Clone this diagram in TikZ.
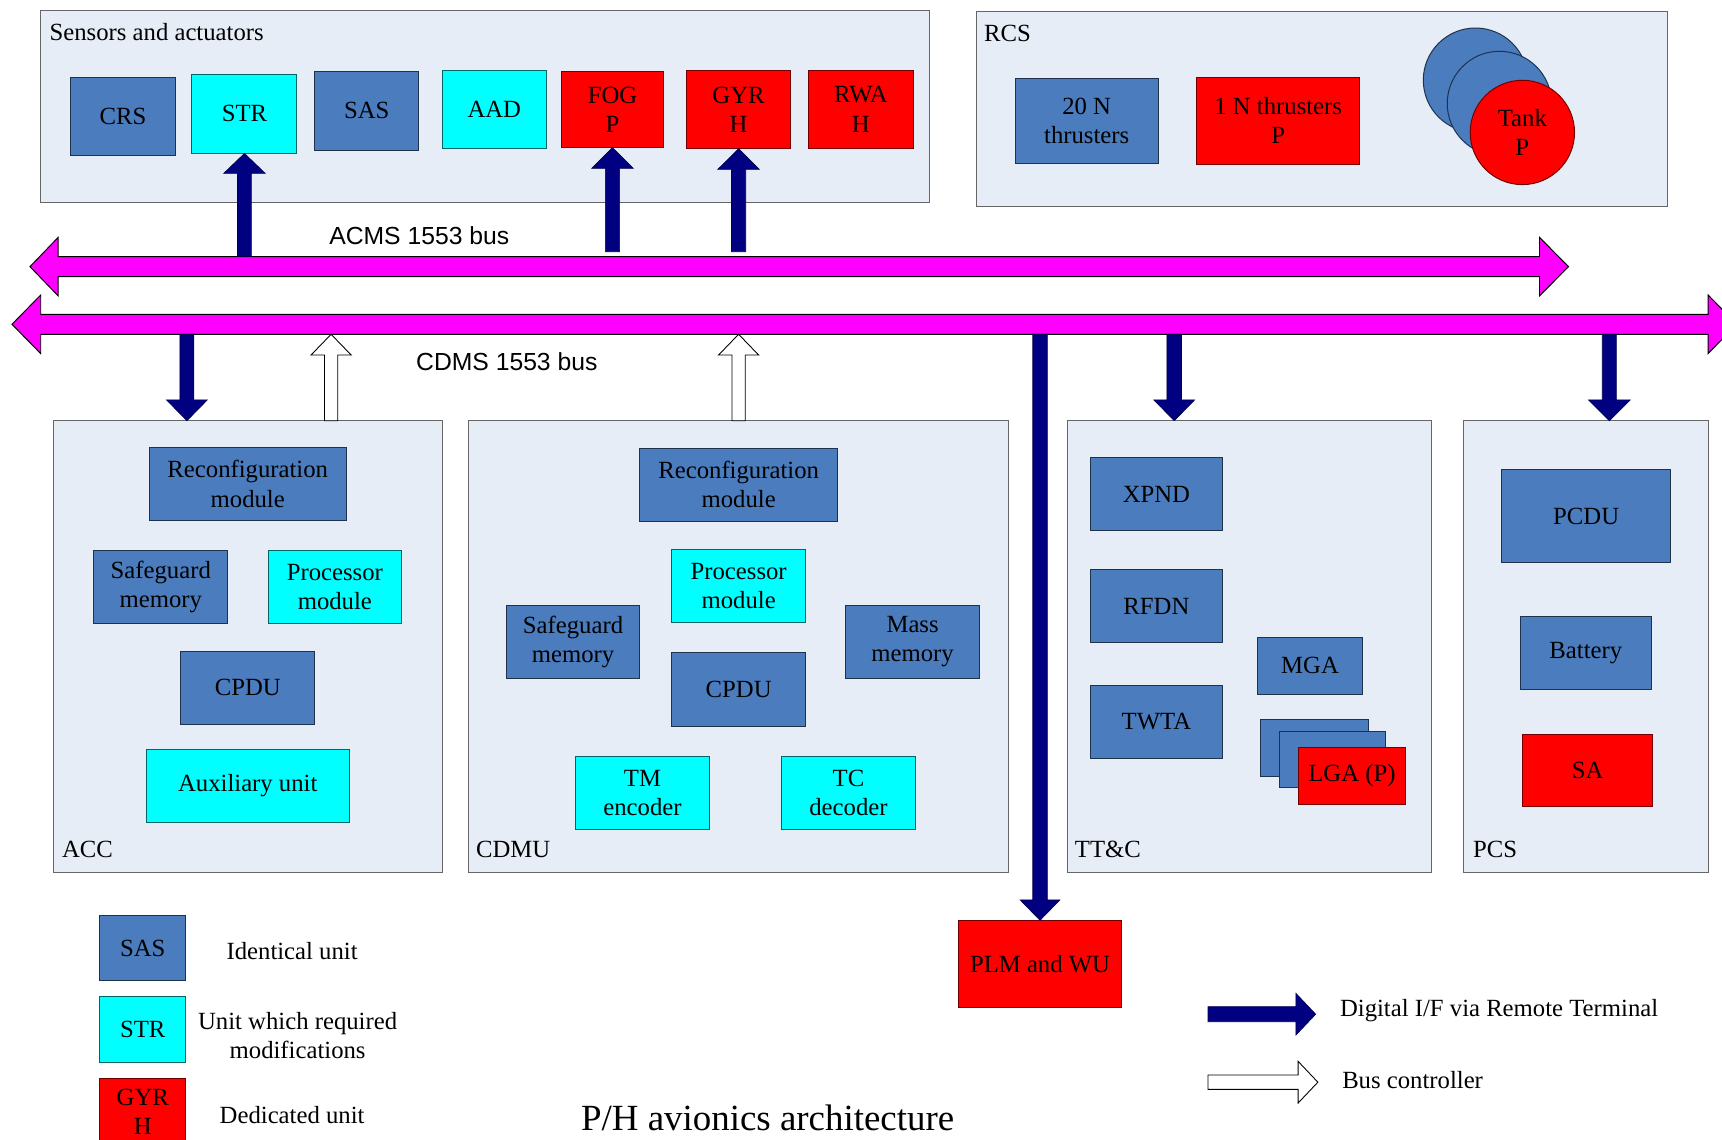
\documentclass[tikz,border=0pt]{standalone}
\usepackage{fontspec}
\setmainfont{Liberation Serif}
\setsansfont{Liberation Sans}
\usetikzlibrary{calc}

\definecolor{unitblue}{RGB}{74,124,190}
\definecolor{unitcyan}{RGB}{0,255,255}
\definecolor{unitred}{RGB}{255,0,0}
\definecolor{busmagenta}{RGB}{255,0,255}
\definecolor{rtnavy}{RGB}{0,0,128}
\definecolor{panelfill}{RGB}{231,237,247}

\newcommand{\unitfont}{\fontsize{22.5}{26.5}\selectfont}

% block arrow: style, start, tip, shaft half-width, head half-width, head length
\newcommand{\blockarrow}[6]{%
  \path ($(#3)!#6!(#2)$) coordinate (bahead);
  \draw[#1] ($(#2)!#4!90:(#3)$) -- ($(bahead)!#4!90:(#3)$)
    -- ($(bahead)!#5!90:(#3)$) -- (#3)
    -- ($(bahead)!#5!-90:(#3)$) -- ($(bahead)!#4!-90:(#3)$)
    -- ($(#2)!#4!-90:(#3)$) -- cycle;
}

\tikzset{
  panel/.style={rectangle, draw=black!60, fill=panelfill, line width=0.9pt,
    inner sep=0pt, outer sep=0pt, anchor=north west},
  unit/.style={rectangle, draw, line width=0.9pt, inner sep=0pt, outer sep=0pt,
    align=center, font=\unitfont},
  identical/.style={unit, fill=unitblue, draw=unitblue!40!black},
  modified/.style={unit, fill=unitcyan, draw=unitcyan!40!black},
  dedicated/.style={unit, fill=unitred, draw=unitred!45!black},
  sz/.style 2 args={minimum width=#1pt, minimum height=#2pt},
  grouplabel/.style={anchor=base west, inner sep=0pt, font=\unitfont},
  plaintext/.style={inner sep=0pt, align=center, font=\unitfont},
  buslabel/.style={anchor=base, inner sep=0pt,
    font=\sffamily\fontsize{22.5}{27}\selectfont},
  rtarrow/.style={fill=rtnavy, draw=rtnavy!60!black, line width=0.6pt},
  bcarrow/.style={fill=white, draw=black, line width=0.8pt},
  busbar/.style={fill=busmagenta, draw=black, line width=0.9pt},
}

\begin{document}
\begin{tikzpicture}[x=1pt,y=-1pt]
\useasboundingbox (0,0) rectangle (1568,1038);

% ---------- subsystem panels ----------
\node[panel, minimum width=809.6pt, minimum height=174.5pt] (sens) at (37.2,9.7) {};
\node[panel, minimum width=629.4pt, minimum height=177.3pt] (rcs) at (889.1,10.9) {};
\node[panel, minimum width=353.8pt, minimum height=411.2pt] (acc) at (48.7,383.1) {};
\node[panel, minimum width=491.5pt, minimum height=411.2pt] (cdmu) at (426.8,383.1) {};
\node[panel, minimum width=331.7pt, minimum height=411.2pt] (ttc) at (971.7,383.1) {};
\node[panel, minimum width=222.4pt, minimum height=411.2pt] (pcs) at (1333,383.1) {};

\node[grouplabel] (senslbl) at (45,37) {Sensors and actuators};
\node[grouplabel] (rcslbl) at (896,38) {RCS};
\node[grouplabel] (acclbl) at (56.4,781) {ACC};
\node[grouplabel] (cdmulbl) at (433.3,781) {CDMU};
\node[grouplabel] (ttclbl) at (978.6,781) {TT\&C};
\node[grouplabel] (pcslbl) at (1341.2,781) {PCS};

% ---------- sensors and actuators ----------
\node[identical, sz={95}{71}] (crs) at (112,106) {CRS};
\node[modified, sz={95.6}{72}] (str) at (222.6,103.7) {STR};
\node[identical, sz={94.5}{72}] (sas) at (334,101) {SAS};
\node[modified, sz={95}{71.7}] (aad) at (450.1,99.6) {AAD};
\node[dedicated, sz={92.8}{69.8}] (fog) at (557.7,99.6) {FOG\\P};
\node[dedicated, sz={95}{71.7}] (gyr) at (672.5,99.6) {GYR\\H};
\node[dedicated, sz={95}{71.7}] (rwa) at (783.9,99.6) {RWA\\H};

% ---------- RCS ----------
\node[identical, sz={130}{77}] (thr20) at (989.5,110.2) {20 N\\thrusters};
\node[dedicated, sz={148}{79}] (thr1) at (1163.9,110) {1 N thrusters\\P};
\node[identical, circle, minimum size=95pt] (tank1) at (1343.5,73) {};
\node[identical, circle, minimum size=95pt] (tank2) at (1365.3,94.2) {};
\node[dedicated, circle, minimum size=95pt] (tank3) at (1386.2,120.6) {Tank\\P};

% ---------- ACC ----------
\node[identical, sz={179.3}{66.5}] (accrec) at (225.6,440.6) {Reconfiguration\\module};
\node[identical, sz={121.7}{66.5}] (accsafe) at (146.4,534.7) {Safeguard\\memory};
\node[modified, sz={121.7}{66.5}] (accproc) at (304.9,534.7) {Processor\\module};
\node[identical, sz={122.3}{66.5}] (acccpdu) at (225.6,626.4) {CPDU};
\node[modified, sz={185.2}{66.8}] (accaux) at (225.6,715.7) {Auxiliary unit};

% ---------- CDMU ----------
\node[identical, sz={180.5}{66.5}] (cdmurec) at (672.6,441.5) {Reconfiguration\\module};
\node[modified, sz={122.3}{66.5}] (cdmuproc) at (672.6,533.5) {Processor\\module};
\node[identical, sz={121.1}{66.5}] (cdmusafe) at (521.8,584.5) {Safeguard\\memory};
\node[identical, sz={122.3}{66.5}] (cdmumass) at (831,584.5) {Mass\\memory};
\node[identical, sz={122.3}{66.8}] (cdmucpdu) at (672.6,627.7) {CPDU};
\node[modified, sz={121.7}{66.2}] (tmenc) at (585,722.1) {TM\\encoder};
\node[modified, sz={121.7}{66.2}] (tcdec) at (772.6,722.1) {TC\\decoder};

% ---------- TT&C ----------
\node[identical, sz={119.4}{66.5}] (xpnd) at (1053,450) {XPND};
\node[identical, sz={119.4}{66.2}] (rfdn) at (1053,551.8) {RFDN};
\node[identical, sz={119.4}{66.4}] (twta) at (1053,657.3) {TWTA};
\node[identical, sz={95.9}{51.4}] (mga) at (1192.9,606.3) {MGA};
\node[identical, sz={98}{51.6}] (lgaa) at (1196.7,680.8) {};
\node[identical, sz={96.3}{51.3}] (lgab) at (1213.4,691.3) {};
\node[dedicated, sz={97.6}{51.6}] (lga) at (1231,706.3) {LGA (P)};

% ---------- PCS ----------
\node[identical, sz={153.3}{85.3}] (pcdu) at (1444.3,469.8) {PCDU};
\node[identical, sz={118.7}{65.9}] (batt) at (1444,594.5) {Battery};
\node[dedicated, sz={118.7}{65.8}] (sa) at (1445.7,701.6) {SA};

% ---------- payload ----------
\node[dedicated, sz={148}{79.6}] (plm) at (947,877.8) {PLM and WU};

% ---------- buses ----------
\draw[busbar] (27.3,242.8) -- (53,216.1) -- (53,233.7) -- (1401.8,233.7)
  -- (1401.8,216.1) -- (1428.2,242.8) -- (1401.8,269.5) -- (1401.8,251.9)
  -- (53,251.9) -- (53,269.5) -- cycle;
\draw[busbar] (10.9,295.3) -- (37.1,268.6) -- (37.1,286.2) -- (1555.3,286.2)
  -- (1555.3,268.6) -- (1581.5,295.3) -- (1555.3,322) -- (1555.3,304.4)
  -- (37.1,304.4) -- (37.1,322) -- cycle;
\node[buslabel] (acmslbl) at (381.8,223) {ACMS 1553 bus};
\node[buslabel] (cdmslbl) at (461.5,337) {CDMS 1553 bus};

\coordinate (acmsTop) at (0,233.7);
\coordinate (acmsTap) at (0,229.2);
\coordinate (cdmsBot) at (0,304.4);

% ---------- remote terminal links ----------
\coordinate (strBus) at (str.south |- acmsTop);
\coordinate (fogBus) at (fog.south |- acmsTap);
\coordinate (gyrBus) at (gyr.south |- acmsTap);
\blockarrow{rtarrow}{strBus}{str.south}{6.3pt}{18.9pt}{18.2pt}
\blockarrow{rtarrow}{fogBus}{fog.south}{6.5pt}{18.9pt}{18.8pt}
\blockarrow{rtarrow}{gyrBus}{gyr.south}{6.5pt}{18.9pt}{18.8pt}

\coordinate (accRT) at (170.2,383.1);
\coordinate (ttcRT) at (1069.2,383.1);
\coordinate (pcsRT) at (1465.4,383.1);
\coordinate (accBus) at (accRT |- cdmsBot);
\coordinate (ttcBus) at (ttcRT |- cdmsBot);
\coordinate (pcsBus) at (pcsRT |- cdmsBot);
\coordinate (plmBus) at (plm.north |- cdmsBot);
\blockarrow{rtarrow}{accBus}{accRT}{6.3pt}{18.6pt}{19pt}
\blockarrow{rtarrow}{ttcBus}{ttcRT}{6.6pt}{18.6pt}{19pt}
\blockarrow{rtarrow}{pcsBus}{pcsRT}{6.4pt}{19pt}{19pt}
\blockarrow{rtarrow}{plmBus}{plm.north}{6.6pt}{18pt}{18.5pt}

% ---------- bus controllers ----------
\coordinate (accBC) at (301.5,383.1);
\coordinate (accBCbus) at (accBC |- cdmsBot);
\coordinate (cdmuBCbus) at (cdmu.north |- cdmsBot);
\blockarrow{bcarrow}{accBC}{accBCbus}{6pt}{18.3pt}{18.9pt}
\blockarrow{bcarrow}{cdmu.north}{cdmuBCbus}{6pt}{18.3pt}{18.9pt}

% ---------- legend ----------
\node[identical, sz={78}{59.5}] (lgid) at (130,863.3) {SAS};
\node[modified, sz={78}{60}] (lgmod) at (130,937.3) {STR};
\node[dedicated, sz={78}{60}] (lgded) at (130,1012) {GYR\\H};
\node[plaintext] (lgidtxt) at (266,866) {Identical unit};
\node[plaintext] (lgmodtxt) at (271,943) {Unit which required\\modifications};
\node[plaintext] (lgdedtxt) at (266,1015) {Dedicated unit};

\coordinate (lgrtA) at (1100,923.5);
\coordinate (lgrtB) at (1198,923.5);
\coordinate (lgbcA) at (1100,985.4);
\coordinate (lgbcB) at (1200,985.4);
\blockarrow{rtarrow}{lgrtA}{lgrtB}{6.8pt}{19pt}{18pt}
\blockarrow{bcarrow}{lgbcA}{lgbcB}{6.5pt}{19pt}{18pt}
\node[plaintext, anchor=west] (lgrttxt) at (1220,920) {Digital I/F via Remote Terminal};
\node[plaintext, anchor=west] (lgbctxt) at (1222,983) {Bus controller};

\node[anchor=base, inner sep=0pt, font=\fontsize{33.6}{40}\selectfont] (title)
  at (699,1029) {P/H avionics architecture};
\end{tikzpicture}
\end{document}
